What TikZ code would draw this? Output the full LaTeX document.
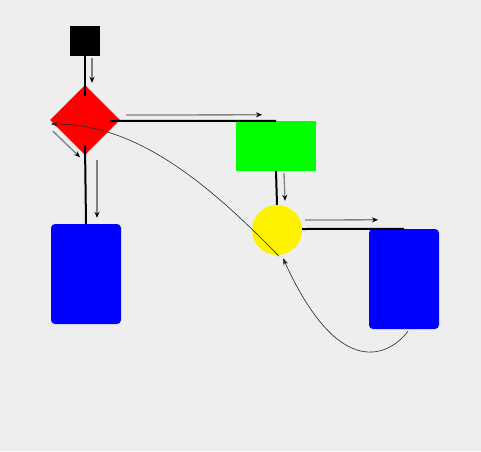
\documentclass[tikz,border=0pt]{standalone}
\usetikzlibrary{arrows.meta,shapes.geometric}
\definecolor{canvas}{HTML}{EEEEEE}

\begin{document}
\begin{tikzpicture}[x=1pt, y=-1pt,
	block/.style = {fill=#1, draw=none, inner sep=0pt},
	flow/.style = {line width=2pt, black},
	hint/.style = {line width=1.3pt, gray, -{Stealth[black, length=6pt, width=5pt]}},
	link/.style = {line width=0.6pt, black!85, -{Stealth[length=7pt, width=5pt]}}]
	\fill[canvas] (0,0) rectangle (481,451);
	\useasboundingbox (0,0) rectangle (481,451);
	% shapes
	\node[block=black, minimum size=30pt] (start) at (85,41) {};
	\node[block=red, diamond, minimum size=70pt] (check) at (85,120) {};
	\node[block=green, minimum width=80pt, minimum height=50pt] (task) at (276,146) {};
	\node[block=yellow, circle, minimum size=50pt] (join) at (277,230) {};
	\node[block=blue, rounded corners=4pt, minimum width=70pt, minimum height=100pt] (endA) at (86,274) {};
	\node[block=blue, rounded corners=4pt, minimum width=70pt, minimum height=100pt] (endB) at (404,279) {};
	% thick connectors
	\draw[flow] (start.south) -- ([yshift=-11pt]check.north);
	\draw[flow] ([yshift=10pt]check.south) -- (endA.north);
	\draw[flow] ([xshift=-10pt, yshift=-1pt]check.east) -- (task.north);
	\draw[flow] (task.south) -- (join.north);
	\draw[flow] ([yshift=1pt]join.east) -- (endB.north);
	% direction hints
	\draw[hint] ([xshift=7pt, yshift=-2pt]start.south) -- ([xshift=7pt, yshift=2pt]check.north);
	\draw[hint] ([xshift=3pt, yshift=-11pt]check.west) -- ([xshift=-5pt, yshift=-2pt]check.south);
	\draw[hint] ([xshift=6pt, yshift=5pt]check.east) -- ([xshift=-14pt, yshift=6pt]task.north);
	\draw[hint] ([xshift=12pt, yshift=-5pt]check.south) -- ([xshift=11pt, yshift=6pt]endA.north);
	\draw[hint] ([xshift=8pt, yshift=-2pt]task.south) -- ([xshift=8pt, yshift=4pt]join.north);
	\draw[hint] ([xshift=3pt, yshift=10pt]join.east) -- ([xshift=-26pt, yshift=9pt]endB.north);
	% curved links
	\draw[link] ([xshift=2pt, yshift=-1pt]join.south) .. controls (205,180) and (135,124) .. ([xshift=1pt, yshift=-4pt]check.west);
	\draw[link] ([xshift=4pt, yshift=-2pt]endB.south) .. controls (390,355) and (340,383) .. ([xshift=6pt, yshift=-3pt]join.south);
\end{tikzpicture}
\end{document}
